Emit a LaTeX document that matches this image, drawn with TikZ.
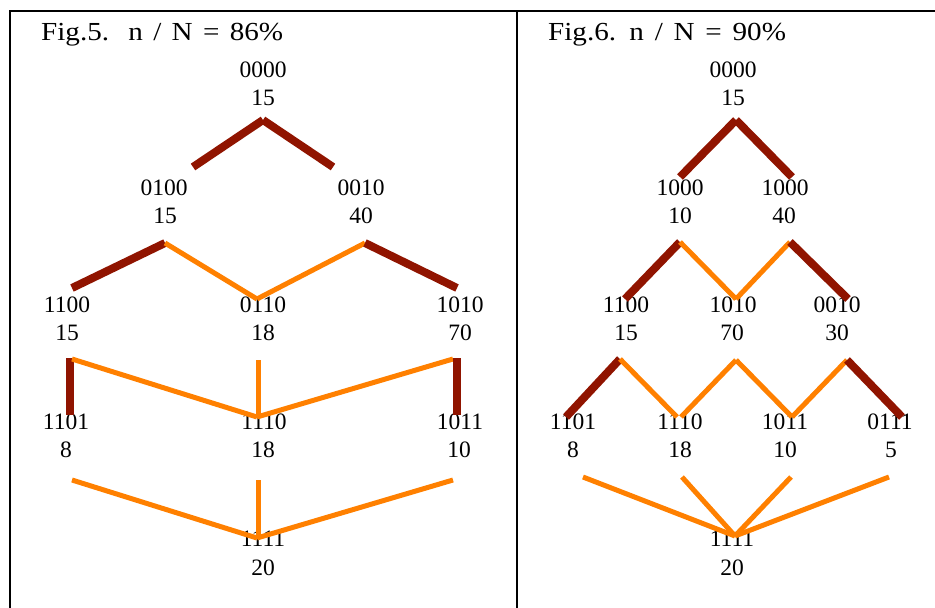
\documentclass[tikz,border=0pt]{standalone}
\usepackage{fontspec}
\setmainfont{Liberation Serif}
\newfontfamily\titlefont{Liberation Serif}[FakeStretch=1.12]
\definecolor{dkred}{HTML}{901400}
\definecolor{orng}{HTML}{FF8000}
\tikzset{
  lbl/.style={font=\fontsize{23.5}{28}\selectfont, inner sep=0pt, anchor=base},
  ttl/.style={font=\titlefont\fontsize{26}{30}\selectfont, inner sep=0pt, anchor=base west},
  frame/.style={draw=black, line width=2pt},
  dk/.style={draw=dkred, line width=8pt},
  og/.style={draw=orng, line width=5pt}
}
\begin{document}
\begin{tikzpicture}[x=1pt,y=-1pt]
\useasboundingbox (0,0) rectangle (935,608);
% frame
\draw[frame] (10,608) -- (10,11) -- (935,11);
\draw[frame] (517,11) -- (517,608);
% titles
\node[ttl] (t5) at (41,40) {\spaceskip=10.3pt Fig.5.\hspace*{9pt} n / N = 86\%};
\node[ttl] (t6) at (548,40) {\spaceskip=10.8pt Fig.6. n / N = 90\%};
% ---------- left panel labels ----------
\node[lbl] (la0) at (263,77) {0000};   \node[lbl] (la0n) at (263,105.5) {15};
\node[lbl] (lb1) at (164,195) {0100};  \node[lbl] (lb1n) at (165,223.5) {15};
\node[lbl] (lb2) at (361,195) {0010};  \node[lbl] (lb2n) at (361,223.5) {40};
\node[lbl] (lc1) at (67,312) {1100};   \node[lbl] (lc1n) at (67,340.5) {15};
\node[lbl] (lc2) at (263,312) {0110};  \node[lbl] (lc2n) at (263,340.5) {18};
\node[lbl] (lc3) at (460,312) {1010};  \node[lbl] (lc3n) at (460,340.5) {70};
\node[lbl] (ld1) at (66,429) {1101};   \node[lbl] (ld1n) at (66,457.5) {8};
\node[lbl] (ld2) at (264,429) {1110};  \node[lbl] (ld2n) at (263,457.5) {18};
\node[lbl] (ld3) at (460,429) {1011};  \node[lbl] (ld3n) at (459,457.5) {10};
\node[lbl] (le1) at (263,546) {1111};  \node[lbl] (le1n) at (263,575) {20};
% ---------- right panel labels ----------
\node[lbl] (ra0) at (733,77) {0000};   \node[lbl] (ra0n) at (733,105.5) {15};
\node[lbl] (rb1) at (680,195) {1000};  \node[lbl] (rb1n) at (680,223.5) {10};
\node[lbl] (rb2) at (785,195) {1000};  \node[lbl] (rb2n) at (784,223.5) {40};
\node[lbl] (rc1) at (626,312) {1100};  \node[lbl] (rc1n) at (626,340.5) {15};
\node[lbl] (rc2) at (733,312) {1010};  \node[lbl] (rc2n) at (732,340.5) {70};
\node[lbl] (rc3) at (837,312) {0010};  \node[lbl] (rc3n) at (837,340.5) {30};
\node[lbl] (rd1) at (573,429) {1101};  \node[lbl] (rd1n) at (573,457.5) {8};
\node[lbl] (rd2) at (680,429) {1110};  \node[lbl] (rd2n) at (680,457.5) {18};
\node[lbl] (rd3) at (785,429) {1011};  \node[lbl] (rd3n) at (785,457.5) {10};
\node[lbl] (rd4) at (890,429) {0111};  \node[lbl] (rd4n) at (891,457.5) {5};
\node[lbl] (re1) at (732,546) {1111};  \node[lbl] (re1n) at (732,575) {20};
% ---------- left panel connector ends ----------
\coordinate (LA) at (263,120);
\coordinate (LB1t) at (193,167);  \coordinate (LB2t) at (333,167);
\coordinate (LB1b) at (165,243);  \coordinate (LB2b) at (365,243);
\coordinate (LC1t) at (72,288);   \coordinate (LC2t) at (257,299); \coordinate (LC3t) at (457,288);
\coordinate (LC1b) at (70,358);   \coordinate (LC1o) at (72,359);
\coordinate (LC2b) at (258,360);
\coordinate (LC3b) at (457,358);  \coordinate (LC3o) at (453,359);
\coordinate (LD1t) at (70,415);   \coordinate (LD2t) at (257,417); \coordinate (LD2v) at (258,417);
\coordinate (LD3t) at (457,415);
\coordinate (LD1b) at (72,480);   \coordinate (LD2b) at (258,480); \coordinate (LD3b) at (453,480);
\coordinate (LE) at (257,538);    \coordinate (LEv) at (258,538);
% ---------- left panel connectors ----------
\draw[dk] (LA) -- (LB1t);
\draw[dk] (LA) -- (LB2t);
\draw[dk] (LB1b) -- (LC1t);
\draw[og] (LB1b) -- (LC2t);
\draw[og] (LC2t) -- (LB2b);
\draw[dk] (LB2b) -- (LC3t);
\draw[dk] (LC1b) -- (LD1t);
\draw[og] (LC1o) -- (LD2t);
\draw[og] (LC2b) -- (LD2v);
\draw[og] (LD2t) -- (LC3o);
\draw[dk] (LC3b) -- (LD3t);
\draw[og] (LD1b) -- (LE);
\draw[og] (LD2b) -- (LEv);
\draw[og] (LE) -- (LD3b);
% ---------- right panel connector ends ----------
\coordinate (RA) at (736,120);
\coordinate (RB1t) at (680,177);  \coordinate (RB2t) at (792,177);
\coordinate (RB1b) at (680,242);  \coordinate (RB2b) at (790,242);
\coordinate (RC1t) at (625,299);  \coordinate (RC2t) at (736,299); \coordinate (RC3t) at (848,299);
\coordinate (RC1b) at (620,359);  \coordinate (RC2b) at (736,360); \coordinate (RC3b) at (847,360);
\coordinate (RD1t) at (566,417);  \coordinate (RD2t) at (677,417); \coordinate (RD2u) at (681,417);
\coordinate (RD3t) at (792,417);  \coordinate (RD4t) at (902,417);
\coordinate (RD1b) at (583,477);  \coordinate (RD2b) at (682,477);
\coordinate (RD3b) at (791,477);  \coordinate (RD4b) at (889,477);
\coordinate (RE) at (735,536);
% ---------- right panel connectors ----------
\draw[dk] (RA) -- (RB1t);
\draw[dk] (RA) -- (RB2t);
\draw[dk] (RB1b) -- (RC1t);
\draw[og] (RB1b) -- (RC2t);
\draw[og] (RC2t) -- (RB2b);
\draw[dk] (RB2b) -- (RC3t);
\draw[dk] (RC1b) -- (RD1t);
\draw[og] (RC1b) -- (RD2t);
\draw[og] (RD2u) -- (RC2b);
\draw[og] (RC2b) -- (RD3t);
\draw[og] (RD3t) -- (RC3b);
\draw[dk] (RC3b) -- (RD4t);
\draw[og] (RD1b) -- (RE);
\draw[og] (RD2b) -- (RE);
\draw[og] (RD3b) -- (RE);
\draw[og] (RD4b) -- (RE);
\end{tikzpicture}
\end{document}
